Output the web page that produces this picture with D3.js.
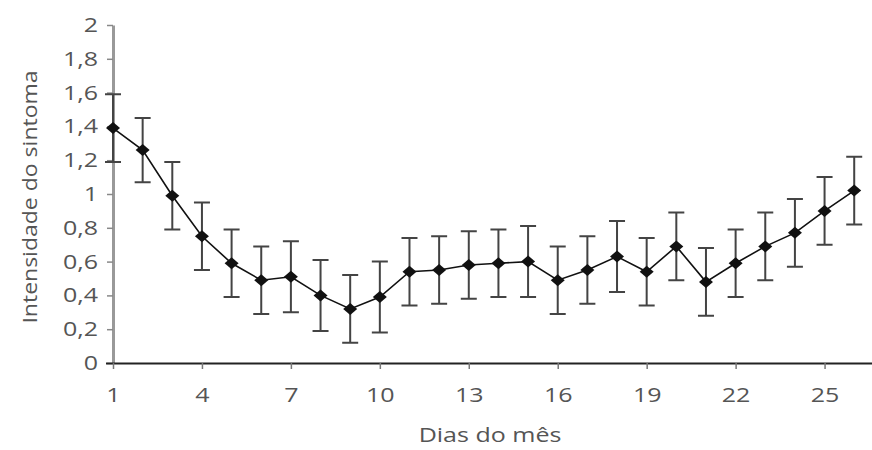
<!DOCTYPE html>
<html>
<head>
<meta charset="utf-8">
<script src="https://cdn.jsdelivr.net/npm/d3@7"></script>
<style>
  body { margin: 0; background: #fff; }
  text { font-family: "Open Sans", sans-serif; fill: #555; }
</style>
</head>
<body>
<svg id="chart" width="872" height="450"></svg>
<script>
// Dias do mês
const days = d3.range(1, 27);
// mean symptom intensity per day
const means = [1.39, 1.26, 0.99, 0.75, 0.59, 0.49, 0.51, 0.40, 0.32, 0.39,
               0.54, 0.55, 0.58, 0.59, 0.60, 0.49, 0.55, 0.63, 0.54, 0.69,
               0.48, 0.59, 0.69, 0.77, 0.90, 1.02];
// error bar half-length
const errors = [0.20, 0.19, 0.20, 0.20, 0.20, 0.20, 0.21, 0.21, 0.20, 0.21,
                0.20, 0.20, 0.20, 0.20, 0.21, 0.20, 0.20, 0.21, 0.20, 0.20,
                0.20, 0.20, 0.20, 0.20, 0.20, 0.20];
const xTicks = [1, 4, 7, 10, 13, 16, 19, 22, 25];
const yTicks = [0, 0.2, 0.4, 0.6, 0.8, 1, 1.2, 1.4, 1.6, 1.8, 2];

const svg = d3.select("#chart");
const mLeft = 113, mRight = 872, mTop = 25, mBottom = 363;

const x = d3.scaleLinear().domain([1, 26.6]).range([mLeft, mRight]);
const y = d3.scaleLinear().domain([0, 2]).range([mBottom, mTop]);
const fmt = d => String(d).replace(".", ",");

// the source picture is stretched sideways, so widen the glyphs a bit
function stretch(sel, k) {
    sel.each(function() {
        const w = this.getComputedTextLength();
        d3.select(this).attr("textLength", w * k).attr("lengthAdjust", "spacingAndGlyphs");
    });
}

// y axis
const yAxis = svg.append("g").attr("transform", `translate(${mLeft},0)`)
    .call(d3.axisLeft(y).tickValues(yTicks).tickFormat(fmt).tickSize(6).tickPadding(9).tickSizeOuter(0));
yAxis.select(".domain").attr("stroke", "#999").attr("stroke-width", 3);
yAxis.selectAll(".tick line").attr("stroke", "#888").attr("stroke-width", 1.5);
yAxis.selectAll(".tick text").style("font-size", "20px").attr("fill", "#555").call(stretch, 1.25);

// x axis
const xAxis = svg.append("g").attr("transform", `translate(0,${mBottom})`)
    .call(d3.axisBottom(x).tickValues(xTicks).tickSize(6).tickPadding(19).tickSizeOuter(0));
xAxis.select(".domain").attr("d", `M${mLeft - 7},0.5H${mRight}`).attr("stroke", "#222").attr("stroke-width", 2);
xAxis.selectAll(".tick line").attr("stroke", "#777").attr("stroke-width", 1.5);
xAxis.selectAll(".tick text").style("font-size", "20px").attr("fill", "#555").call(stretch, 1.25);

// axis titles
svg.append("text").attr("x", 490).attr("y", 442).attr("text-anchor", "middle")
    .style("font-size", "20px").text("Dias do mês").call(stretch, 1.25);
svg.append("text").attr("transform", "translate(37,197) rotate(-90)").attr("text-anchor", "middle")
    .style("font-size", "20px").text("Intensidade do sintoma").call(stretch, 1.15);

const data = days.map((d, i) => ({ day: d, m: means[i], e: errors[i] }));

// error bars
const eb = svg.append("g").attr("stroke", "#444").attr("stroke-width", 2).attr("fill", "none");
const cap = 8;
eb.selectAll("path").data(data).join("path")
    .attr("d", d => {
        const cx = x(d.day), y1 = y(d.m + d.e), y2 = y(d.m - d.e);
        return `M${cx - cap},${y1}H${cx + cap}M${cx},${y1}V${y2}M${cx - cap},${y2}H${cx + cap}`;
    });

// line
svg.append("path").datum(data)
    .attr("fill", "none").attr("stroke", "#111").attr("stroke-width", 1.6)
    .attr("d", d3.line().x(d => x(d.day)).y(d => y(d.m)));

// diamond markers
svg.append("g").selectAll("path").data(data).join("path")
    .attr("transform", d => `translate(${x(d.day)},${y(d.m)})`)
    .attr("d", "M0,-6L7,0L0,6L-7,0Z")
    .attr("fill", "#111");
</script>
</body>
</html>
